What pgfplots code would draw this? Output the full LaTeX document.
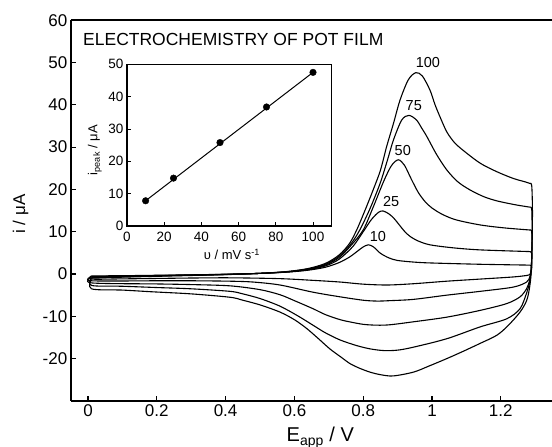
\documentclass[border=0pt]{standalone}
\usepackage{fontspec}
\setmainfont{Liberation Sans}
\usepackage{pgfplots}
\pgfplotsset{compat=1.18}

\pgfplotsset{cv/.style={black, line width=1.1bp, smooth, tension=0.5, no marks}}

\begin{document}
\begin{tikzpicture}
\useasboundingbox (0,0) rectangle (552bp,447bp);

% main CV plot
\begin{axis}[
    at={(70.8bp,46.1bp)}, anchor=south west,
    width=481.6bp, height=380.7bp, scale only axis,
    xmin=-0.05, xmax=1.35, ymin=-30, ymax=60,
    axis x line*=box, axis y line*=left,
    axis line style={-, line width=1.8bp},
    xtick={0,0.2,0.4,0.6,0.8,1,1.2},
    xticklabels={0,0.2,0.4,0.6,0.8,1,1.2},
    ytick={-20,-10,...,60},
    xtick pos=bottom, ytick pos=left,
    tick align=inside, major tick length=5bp,
    tick style={black, line width=1.2bp},
    /pgf/number format/assume math mode=true,
    tick label style={font=\fontsize{17bp}{20bp}\selectfont},
    xlabel={E\textsubscript{app} / V},
    xlabel style={font=\fontsize{20bp}{24bp}\selectfont, at={(axis description cs:0.518,0)}, anchor=base, yshift=-41bp},
    ylabel={i / μA},
    ylabel style={font=\fontsize{17bp}{20bp}\selectfont, at={(axis description cs:-0.095,0.491)}, anchor=base, rotate=0},
    clip=false,
]
% scan rate 100 mV/s
\addplot[cv] coordinates {(0.01,-1.0) (0.1,-0.75) (0.2,-0.55) (0.3,-0.35) (0.4,-0.15) (0.5,0.15) (0.58,0.6) (0.64,1.3) (0.69,2.5) (0.73,4.5) (0.76,7.2) (0.781,10.4) (0.805,15) (0.829,19.9) (0.85,24.5) (0.868,30.1) (0.888,35.6) (0.907,41.1) (0.931,45.9) (0.953,47.6) (0.972,46.8) (0.994,43.5) (1.008,40.2) (1.023,37.2) (1.043,33.6) (1.065,31.1) (1.091,29.2) (1.14,26.2) (1.188,24.2) (1.236,22.6) (1.27,21.8) (1.285,21.4)};
\addplot[cv] coordinates {(1.285,21.4) (1.29,20.8) (1.292,15) (1.291,7) (1.288,0) (1.283,-3.5) (1.275,-6.3) (1.256,-9) (1.22,-12.3) (1.188,-14.5) (1.14,-16.4) (1.09,-18.3) (1.043,-20) (0.99,-21.8) (0.946,-23.2) (0.887,-24.1) (0.85,-23.8) (0.82,-23.2) (0.79,-22.3) (0.762,-21.2) (0.733,-19.5) (0.703,-17.7) (0.67,-15.3) (0.636,-12.9) (0.6,-10.8) (0.558,-9) (0.5,-7.3) (0.45,-6.2) (0.413,-5.5) (0.3,-4.7) (0.185,-4.2) (0.1,-3.8) (0.01,-3.5) (0.01,-1.0)};
% scan rate 75 mV/s
\addplot[cv] coordinates {(0.01,-0.85) (0.1,-0.65) (0.2,-0.45) (0.3,-0.3) (0.4,-0.12) (0.5,0.15) (0.58,0.55) (0.64,1.2) (0.69,2.3) (0.73,4.2) (0.765,7.2) (0.79,10.4) (0.82,15.5) (0.849,21.4) (0.87,26.8) (0.888,31.7) (0.912,36.4) (0.933,37.5) (0.955,36.4) (0.97,34.5) (0.985,32.5) (1.013,28.3) (1.043,24.6) (1.075,21.8) (1.11,19.9) (1.15,18.3) (1.188,17.3) (1.24,16.4) (1.285,15.8)};
\addplot[cv] coordinates {(1.285,15.8) (1.29,15.2) (1.291,10) (1.29,4) (1.286,-1) (1.28,-3.2) (1.275,-4.5) (1.256,-8.2) (1.217,-10.6) (1.14,-12.5) (1.043,-15.3) (0.946,-17.3) (0.9,-18.0) (0.86,-18.1) (0.82,-17.7) (0.78,-16.9) (0.733,-15.6) (0.69,-13.9) (0.654,-12.1) (0.61,-9.9) (0.558,-7.6) (0.5,-5.8) (0.45,-4.7) (0.413,-4.1) (0.3,-3.5) (0.2,-3.2) (0.1,-2.9) (0.01,-2.7) (0.01,-0.85)};
% scan rate 50 mV/s
\addplot[cv] coordinates {(0.01,-0.7) (0.1,-0.55) (0.2,-0.4) (0.3,-0.25) (0.4,-0.1) (0.5,0.15) (0.58,0.5) (0.64,1.1) (0.69,2.1) (0.73,3.9) (0.765,6.8) (0.8,10.4) (0.83,16) (0.86,22) (0.882,25.6) (0.902,27.0) (0.92,25.7) (0.94,22.4) (0.96,19.3) (0.98,17.1) (1.0,15.6) (1.03,14.1) (1.07,12.8) (1.14,11.6) (1.21,10.9) (1.285,10.4)};
\addplot[cv] coordinates {(1.285,10.4) (1.29,9.8) (1.29,4) (1.287,0) (1.281,-2.3) (1.275,-3.5) (1.256,-5.4) (1.217,-7.0) (1.14,-8.6) (1.043,-10.2) (0.946,-11.3) (0.878,-12.0) (0.84,-12.1) (0.8,-11.9) (0.76,-11.3) (0.733,-10.8) (0.69,-9.6) (0.654,-8.2) (0.6,-6.3) (0.558,-4.9) (0.5,-3.7) (0.413,-2.8) (0.3,-2.5) (0.2,-2.35) (0.01,-2.1) (0.01,-0.7)};
% scan rate 25 mV/s
\addplot[cv] coordinates {(0.01,-0.6) (0.1,-0.48) (0.2,-0.35) (0.3,-0.22) (0.4,-0.08) (0.5,0.15) (0.58,0.5) (0.64,1.0) (0.69,1.9) (0.73,3.5) (0.77,6.5) (0.8,10) (0.825,13) (0.845,14.6) (0.858,14.9) (0.875,14.2) (0.89,13.1) (0.905,11.6) (0.92,10.1) (0.936,8.9) (0.96,7.8) (0.994,6.9) (1.06,6.2) (1.14,5.7) (1.285,5.3)};
\addplot[cv] coordinates {(1.285,5.3) (1.29,4.8) (1.29,2) (1.285,-0.5) (1.275,-1.9) (1.236,-3.1) (1.14,-4.1) (1.043,-5.0) (0.946,-6.0) (0.878,-6.3) (0.84,-6.4) (0.8,-6.2) (0.733,-5.4) (0.654,-4.3) (0.558,-2.6) (0.48,-1.9) (0.413,-1.7) (0.3,-1.6) (0.2,-1.6) (0.01,-1.6) (0.01,-0.6)};
% scan rate 10 mV/s
\addplot[cv] coordinates {(0.01,-0.45) (0.1,-0.4) (0.2,-0.3) (0.3,-0.2) (0.4,-0.05) (0.5,0.15) (0.58,0.45) (0.64,0.9) (0.69,1.6) (0.73,2.7) (0.76,4.0) (0.785,5.5) (0.8,6.4) (0.815,6.9) (0.83,6.4) (0.85,4.9) (0.875,3.8) (0.9,3.2) (0.95,2.8) (1.0,2.6) (1.14,2.3) (1.285,2.1)};
\addplot[cv] coordinates {(1.285,2.1) (1.29,1.7) (1.288,0.5) (1.283,-0.2) (1.275,-0.35) (1.236,-0.7) (1.14,-1.2) (1.043,-1.7) (0.946,-2.3) (0.87,-2.6) (0.8,-2.4) (0.733,-1.9) (0.654,-1.5) (0.558,-1.1) (0.413,-0.9) (0.3,-0.95) (0.2,-1.05) (0.1,-1.15) (0.01,-1.2) (0.01,-0.45)};

\node[anchor=base west, inner sep=0, font=\fontsize{17.5bp}{20bp}\selectfont] at (axis cs:-0.0145,54.1) {ELECTROCHEMISTRY OF POT FILM};
\begin{scope}[every node/.style={font=\fontsize{14.5bp}{16bp}\selectfont, inner sep=0}]
\node at (axis cs:0.988,49.9) {100};
\node at (axis cs:0.947,39.8) {75};
\node at (axis cs:0.915,29.1) {50};
\node at (axis cs:0.881,17.2) {25};
\node at (axis cs:0.843,8.8) {10};
\end{scope}
\end{axis}

% inset: peak current vs scan rate
\begin{axis}[
    at={(127bp,221bp)}, anchor=south west,
    width=204.6bp, height=161.7bp, scale only axis,
    xmin=0, xmax=110, ymin=0, ymax=50,
    xtick={0,20,...,100}, ytick={0,10,...,50},
    xtick pos=bottom, ytick pos=left,
    tick align=inside, major tick length=3.5bp,
    axis line style={line width=1.2bp},
    tick style={black, line width=0.9bp},
    /pgf/number format/assume math mode=true,
    tick label style={font=\fontsize{13.5bp}{16bp}\selectfont},
    xticklabel style={yshift=-2.5bp},
    xlabel={υ / mV s\textsuperscript{-1}},
    xlabel style={font=\fontsize{13bp}{15bp}\selectfont, at={(axis description cs:0.513,0)}, anchor=base, yshift=-33.5bp},
    ylabel={i\textsubscript{peak} / μA},
    ylabel style={font=\fontsize{13bp}{15bp}\selectfont, at={(axis description cs:-0.145,0.47)}, anchor=base},
]
\addplot[black, line width=1bp, no marks] coordinates {(10,7.8) (100,47.5)};
\addplot[only marks, mark=*, mark size=3.3bp, black] coordinates {(10,7.8) (25,14.8) (50,25.8) (75,36.8) (100,47.5)};
\end{axis}
\end{tikzpicture}
\end{document}
